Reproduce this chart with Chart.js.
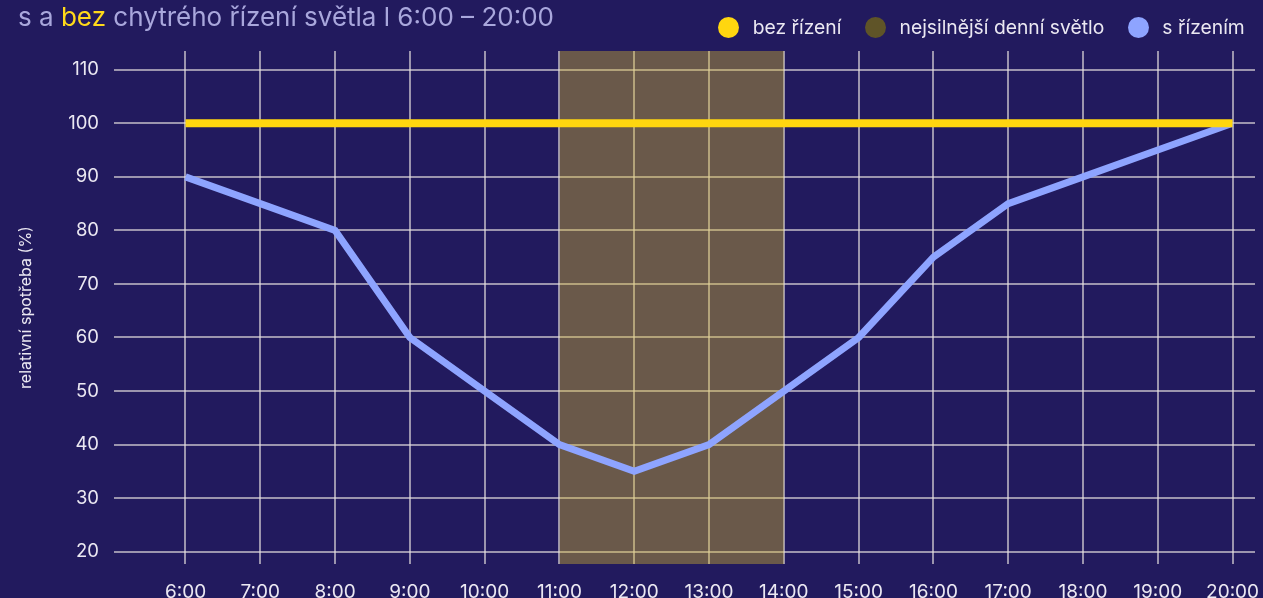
<!DOCTYPE html>
<html lang="cs">
<head>
<meta charset="utf-8">
<script src="https://cdn.jsdelivr.net/npm/chart.js@4/dist/chart.umd.min.js"></script>
<style>
  html, body { margin: 0; padding: 0; background: #221a5e; overflow: hidden; }
  #wrap { position: relative; width: 1263px; height: 598px; }
  #c { position: absolute; left: 0; top: 0; }
  #subtitle { position: absolute; left: 18px; top: 2px; font-family: Inter, "Noto Sans", sans-serif;
    font-size: 26px; color: #a9a7dc; white-space: nowrap; line-height: 30px; }
  #subtitle .y { color: #ffd91a; }
  #legend { position: absolute; left: 718px; top: 15px; display: flex; align-items: center;
    font-family: Inter, "Noto Sans", sans-serif; font-size: 19.3px; color: #ebe8f2; line-height: 24px; white-space: nowrap; }
  #legend .item { display: flex; align-items: center; margin-right: 23.4px; }
  #legend .dot { width: 21px; height: 21px; border-radius: 50%; margin-right: 13.7px; }
</style>
</head>
<body>
<div id="wrap">
  <canvas id="c" width="1263" height="598"></canvas>
  <div id="subtitle">s a <span class="y">bez</span> chytrého řízení světla l 6:00 – 20:00</div>
  <div id="legend"></div>
</div>
<script>
// ---- data ----
const hours = [6, 7, 8, 9, 10, 11, 12, 13, 14, 15, 16, 17, 18, 19, 20];
const bezRizeni = [100, 100, 100, 100, 100, 100, 100, 100, 100, 100, 100, 100, 100, 100, 100];
const sRizenim = [90, 85, 80, 60, 50, 40, 35, 40, 50, 60, 75, 85, 90, 95, 100];
const highlightHours = [11, 14];           // nejsilnější denní světlo
const yTicks = [20, 30, 40, 50, 60, 70, 80, 90, 100, 110];
const xTicks = [6, 7, 8, 9, 10, 11, 12, 13, 14, 15, 16, 17, 18, 19, 20];
const seriesNames = ['bez řízení', 'nejsilnější denní světlo', 's řízením'];

const Y_MIN = 17.7, Y_MAX = 113.5;
const X_MIN = 5.044, X_MAX = 20.30;

const YELLOW = '#ffd60f';
const BLUE = '#8ea4ff';
const BOX = 'rgba(216,185,45,0.4)';
const BOX_LEGEND = '#5f5428';
const GRID = 'rgba(230,226,225,0.62)';
const TEXT = '#ebe8f2';
const FONT = 'Inter, "Noto Sans", sans-serif';

const toXY = (vals) => hours.map((h, i) => ({ x: h, y: vals[i] }));

const datasets = [
  { label: seriesNames[0], data: toXY(bezRizeni), borderColor: YELLOW, backgroundColor: YELLOW,
    borderWidth: 8, pointRadius: 0, tension: 0, order: 0, legendColor: YELLOW },
  { label: seriesNames[1], data: highlightHours.map(h => ({ x: h, y: Y_MAX })), borderWidth: 0,
    borderColor: 'rgba(0,0,0,0)', backgroundColor: BOX, fill: 'start', pointRadius: 0, order: 2,
    legendColor: BOX_LEGEND },
  { label: seriesNames[2], data: toXY(sRizenim), borderColor: BLUE, backgroundColor: BLUE,
    borderWidth: 7, pointRadius: 0, tension: 0, order: 1, legendColor: BLUE }
];

const chart = new Chart(document.getElementById('c'), {
  type: 'line',
  data: { datasets },
  options: {
    responsive: false,
    animation: false,
    devicePixelRatio: 1,
    layout: { padding: { left: 0, right: 8, top: 51, bottom: 0 } },
    plugins: { legend: { display: false }, tooltip: { enabled: false } },
    scales: {
      x: {
        type: 'linear', min: X_MIN, max: X_MAX,
        afterBuildTicks: (s) => { s.ticks = xTicks.map(v => ({ value: v })); },
        afterFit: (s) => { s.height = 34; s.paddingLeft = 0; s.paddingRight = 0; },
        grid: { color: GRID, lineWidth: 2, drawTicks: false },
        border: { display: false },
        ticks: { color: TEXT, padding: 17, maxRotation: 0, autoSkip: false,
          font: { family: FONT, size: 19 },
          callback: (v) => v + ':00' }
      },
      y: {
        type: 'linear', min: Y_MIN, max: Y_MAX,
        afterBuildTicks: (s) => { s.ticks = yTicks.map(v => ({ value: v })); },
        afterFit: (s) => { s.width = 114; s.paddingTop = 0; s.paddingBottom = 0; },
        grid: { color: GRID, lineWidth: 2, drawTicks: false },
        border: { display: false },
        ticks: { color: TEXT, padding: 15, font: { family: FONT, size: 18.5 } },
        title: { display: true, text: 'relativní spotřeba (%)', color: TEXT,
          padding: { top: 17, bottom: 0 }, font: { family: FONT, size: 16 } }
      }
    }
  }
});

// HTML legend built from the chart's datasets
const legend = document.getElementById('legend');
chart.data.datasets.forEach(ds => {
  const item = document.createElement('div');
  item.className = 'item';
  const dot = document.createElement('span');
  dot.className = 'dot';
  dot.style.background = ds.legendColor;
  const txt = document.createElement('span');
  txt.textContent = ds.label;
  item.appendChild(dot); item.appendChild(txt);
  legend.appendChild(item);
});
</script>
</body>
</html>
